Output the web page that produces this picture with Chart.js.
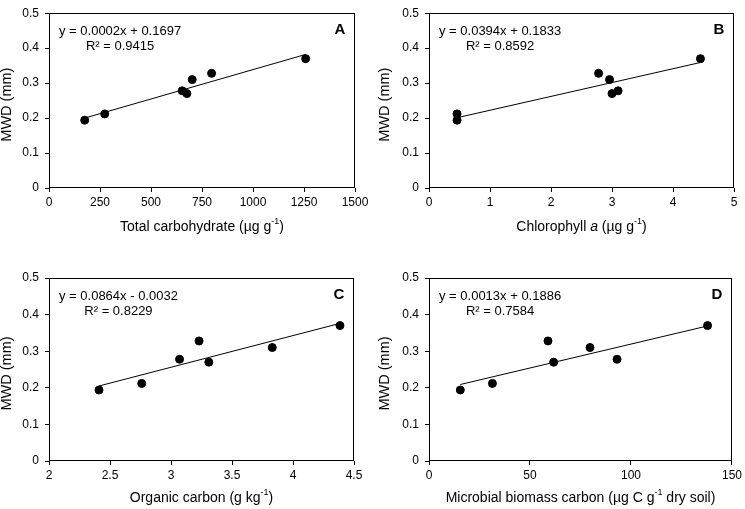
<!DOCTYPE html>
<html><head><meta charset="utf-8">
<script src="https://cdn.jsdelivr.net/npm/chart.js@4/dist/chart.umd.min.js"></script>
<style>
html,body{margin:0;padding:0;background:#fff;}
#wrap{position:relative;width:745px;height:509px;overflow:hidden;}
canvas{position:absolute;display:block;}
</style></head><body>
<div id="wrap">
<canvas id="cA" width="372" height="250" style="left:0;top:0"></canvas>
<canvas id="cB" width="373" height="250" style="left:372px;top:0"></canvas>
<canvas id="cC" width="372" height="259" style="left:0;top:250px"></canvas>
<canvas id="cD" width="373" height="259" style="left:372px;top:250px"></canvas>
</div>
<script>
// ---- data (7 samples, same order in every array) ----
const mwd               = [0.194, 0.212, 0.270, 0.278, 0.310, 0.328, 0.370];
const totalCarbohydrate = [175, 273, 676, 653, 702, 797, 1258];
const chlorophyllA      = [0.46, 0.46, 3.00, 3.10, 2.96, 2.78, 4.45];
const organicCarbon     = [2.41, 2.76, 3.31, 3.07, 3.83, 3.23, 4.385];
const microbialBiomassC = [15.5, 31.4, 61.7, 93.1, 79.7, 58.9, 137.9];

// trend line end points
const trendAx = [175, 1258],  trendAy = [0.200, 0.382];
const trendBx = [0.46, 4.45], trendBy = [0.201, 0.359];
const trendCx = [2.41, 4.385], trendCy = [0.205, 0.376];
const trendDx = [15.5, 137.9], trendDy = [0.209, 0.369];

// text
const equations = ['y = 0.0002x + 0.1697', 'y = 0.0394x + 0.1833', 'y = 0.0864x - 0.0032', 'y = 0.0013x + 0.1886'];
const rSquared  = ['R\u00B2 = 0.9415', 'R\u00B2 = 0.8592', 'R\u00B2 = 0.8229', 'R\u00B2 = 0.7584'];
const panelLetters = ['A', 'B', 'C', 'D'];
const yTitle = 'MWD (mm)';
const xTitleA = [['Total carbohydrate (\u00B5g g', ''], ['-1', 'sup'], [')', '']];
const xTitleB = [['Chlorophyll ', ''], ['a', 'italic'], [' (\u00B5g g', ''], ['-1', 'sup'], [')', '']];
const xTitleC = [['Organic carbon (g kg', ''], ['-1', 'sup'], [')', '']];
const xTitleD = [['Microbial biomass carbon (\u00B5g C g', ''], ['-1', 'sup'], [' dry soil)', '']];
const yTicks = [0, 0.1, 0.2, 0.3, 0.4, 0.5];

const FONT = "'Liberation Sans', Arial, sans-serif";

const decor = {
  id: 'decor',
  afterDraw(chart, args, o) {
    const ctx = chart.ctx, a = chart.chartArea;
    ctx.save();
    // frame
    ctx.strokeStyle = '#000'; ctx.lineWidth = 1;
    ctx.strokeRect(Math.round(a.left) + 0.5, Math.round(a.top) + 0.5,
                   Math.round(a.right - a.left) - 1, Math.round(a.bottom - a.top) - 1);
    ctx.fillStyle = '#000';
    // equation and R2
    ctx.font = '13px ' + FONT;
    ctx.textBaseline = 'middle'; ctx.textAlign = 'left';
    const w = ctx.measureText(o.eq).width;
    const x0 = a.left + 10;
    ctx.fillText(o.eq, x0, a.top + 18);
    const w2 = ctx.measureText(o.r2).width;
    ctx.fillText(o.r2, x0 + (w - w2) / 2, a.top + 33);
    // letter
    ctx.font = 'bold 15px ' + FONT;
    ctx.textAlign = 'center';
    ctx.fillText(o.letter, a.right - 15, a.top + 17);
    // x title (rich)
    const parts = o.xTitle;
    const fontFor = s => s === 'sup' ? '9px ' + FONT : (s === 'italic' ? 'italic 14px ' + FONT : '14px ' + FONT);
    let total = 0;
    parts.forEach(p => { ctx.font = fontFor(p[1]); total += ctx.measureText(p[0]).width; });
    let x = (a.left + a.right) / 2 - total / 2;
    const ty = a.bottom + o.xTitleOff;
    ctx.textAlign = 'left';
    parts.forEach(p => {
      ctx.font = fontFor(p[1]);
      ctx.fillText(p[0], x, p[1] === 'sup' ? ty - 5 : ty);
      x += ctx.measureText(p[0]).width;
    });
    // y title
    ctx.font = '14.5px ' + FONT;
    ctx.translate(o.yTitleX, (a.top + a.bottom) / 2 + 4);
    ctx.rotate(-Math.PI / 2);
    ctx.textAlign = 'center';
    ctx.fillText(yTitle, 0, 0);
    ctx.restore();
  }
};

function makePanel(id, xs, tx, ty, cfg) {
  const cv = document.getElementById(id);
  const W = cv.width, H = cv.height;
  new Chart(cv, {
    type: 'scatter',
    data: {
      datasets: [
        { data: xs.map((v, i) => ({ x: v, y: mwd[i] })), backgroundColor: '#000', borderColor: '#000',
          pointRadius: 4, pointHoverRadius: 4, order: 1 },
        { data: tx.map((v, i) => ({ x: v, y: ty[i] })), showLine: true, borderColor: '#000', borderWidth: 1,
          pointRadius: 0, fill: false, order: 2 }
      ]
    },
    options: {
      responsive: false, animation: false, devicePixelRatio: 1,
      layout: { padding: { left: 0, top: cfg.T, right: W - cfg.R, bottom: 0 } },
      plugins: { legend: { display: false }, tooltip: { enabled: false },
        decor: { eq: cfg.eq, r2: cfg.r2, letter: cfg.letter, xTitle: cfg.xTitle, xTitleOff: cfg.xTitleOff, yTitleX: cfg.yTitleX } },
      scales: {
        x: {
          type: 'linear', min: cfg.xMin, max: cfg.xMax,
          afterFit: s => { s.height = H - cfg.B; },
          border: { display: false },
          grid: { drawOnChartArea: false, drawTicks: true, tickLength: 4, color: '#000' },
          ticks: { stepSize: cfg.xStep, color: '#000', padding: 3, maxRotation: 0, autoSkip: false,
            font: { family: FONT, size: 12 }, callback: v => String(Math.round(v * 100) / 100) }
        },
        y: {
          type: 'linear', min: 0, max: 0.5,
          afterFit: s => { s.width = cfg.L; },
          afterBuildTicks: s => { s.ticks = yTicks.map(v => ({ value: v })); },
          border: { display: false },
          grid: { drawOnChartArea: false, drawTicks: true, tickLength: 4, color: '#000' },
          ticks: { color: '#000', padding: 6, font: { family: FONT, size: 12 },
            callback: v => String(Math.round(v * 10) / 10) }
        }
      }
    },
    plugins: [decor]
  });
}

makePanel('cA', totalCarbohydrate, trendAx, trendAy,
  { L: 49, R: 355, T: 5, B: 188, xMin: 0, xMax: 1500, xStep: 250, eq: equations[0], r2: rSquared[0], letter: panelLetters[0], xTitle: xTitleA, xTitleOff: 39, yTitleX: 7 });
makePanel('cB', chlorophyllA, trendBx, trendBy,
  { L: 57, R: 362, T: 5, B: 188, xMin: 0, xMax: 5, xStep: 1, eq: equations[1], r2: rSquared[1], letter: panelLetters[1], xTitle: xTitleB, xTitleOff: 39, yTitleX: 13 });
makePanel('cC', organicCarbon, trendCx, trendCy,
  { L: 49, R: 354, T: 28, B: 211, xMin: 2, xMax: 4.5, xStep: 0.5, eq: equations[2], r2: rSquared[2], letter: panelLetters[2], xTitle: xTitleC, xTitleOff: 37, yTitleX: 7 });
makePanel('cD', microbialBiomassC, trendDx, trendDy,
  { L: 57, R: 362, T: 28, B: 211, xMin: 0, xMax: 150, xStep: 50, eq: equations[3], r2: rSquared[3], letter: panelLetters[3], xTitle: xTitleD, xTitleOff: 37, yTitleX: 13 });
</script>
</body></html>
